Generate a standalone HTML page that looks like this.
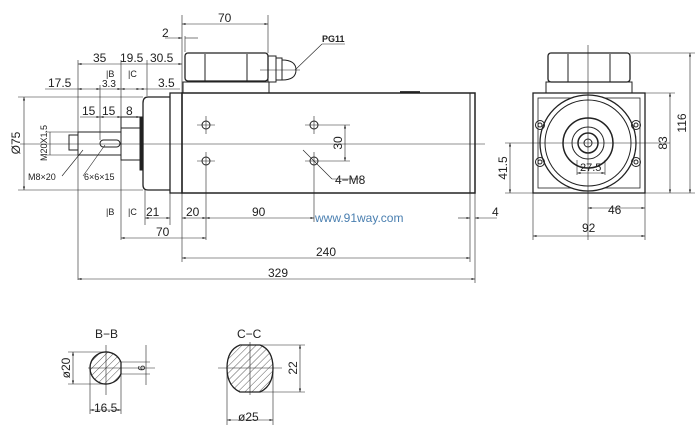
<!DOCTYPE html>
<html><head><meta charset="utf-8"><style>
html,body{margin:0;padding:0;background:#fff;width:697px;height:437px;overflow:hidden}
svg{display:block}
text{font-family:"Liberation Sans",sans-serif;fill:#222}
</style></head><body>
<svg width="697" height="437" viewBox="0 0 697 437" xmlns="http://www.w3.org/2000/svg">
<defs>
<marker id="a" viewBox="0 0 10 10" refX="10" refY="5" markerWidth="6" markerHeight="6" orient="auto-start-reverse"><path d="M0,2L10,5L0,8z" fill="#222"/></marker>
<pattern id="h" width="5" height="5" patternUnits="userSpaceOnUse" patternTransform="rotate(45)"><line x1="0" y1="0" x2="0" y2="5" stroke="#333" stroke-width="0.8"/></pattern>
</defs>
<g fill="none" stroke="#222" stroke-width="1">
<rect x="182" y="93" width="293" height="100" stroke-width="1.5"/>
<line x1="470" y1="93" x2="470" y2="193"/>
<rect x="170" y="93" width="12" height="100" stroke-width="1.3"/>
<path d="M170,97 H148 Q143,97 143,103 V185 Q143,190 148,190 H170" stroke-width="1.3"/>
<rect x="140" y="117" width="3" height="53" fill="#222"/>
<rect x="121" y="117" width="19" height="43"/>
<line x1="121" y1="128" x2="140" y2="128"/>
<rect x="78" y="132" width="43" height="23"/>
<rect x="69" y="135" width="9" height="15"/>
<rect x="100" y="140" width="20" height="7" rx="3.5"/>
<rect x="185" y="53" width="83" height="28" rx="3" stroke-width="1.3"/>
<line x1="205" y1="54" x2="205" y2="81"/><line x1="247" y1="54" x2="247" y2="81"/>
<rect x="183" y="82" width="86" height="11"/>
<rect x="268" y="56" width="8" height="26"/><rect x="276" y="58" width="6" height="22"/>
<path d="M282,60 Q296,60 296,70 Q296,80 282,80"/>
<line x1="260" y1="70" x2="300" y2="70" stroke-width="0.6"/>
<line x1="400" y1="92" x2="420" y2="92" stroke-width="1.8"/>
<circle cx="206" cy="125" r="4"/><circle cx="206" cy="161" r="4"/>
<circle cx="314" cy="125" r="4"/><circle cx="314" cy="161" r="4"/>
<g stroke-width="0.6">
<line x1="197" y1="125" x2="215" y2="125"/><line x1="206" y1="116" x2="206" y2="134"/>
<line x1="197" y1="161" x2="215" y2="161"/><line x1="206" y1="152" x2="206" y2="240"/>
<line x1="305" y1="125" x2="350" y2="125"/><line x1="314" y1="116" x2="314" y2="134"/>
<line x1="305" y1="161" x2="350" y2="161"/><line x1="314" y1="152" x2="314" y2="222"/>
<line x1="20" y1="144" x2="485" y2="144"/>
<line x1="303" y1="150" x2="332" y2="179"/><line x1="332" y1="179" x2="362" y2="179"/>
<line x1="295" y1="70" x2="322" y2="44"/><line x1="322" y1="44" x2="345" y2="44"/>
<line x1="83" y1="150" x2="62" y2="176"/><line x1="105" y1="145" x2="83" y2="176"/>
<line x1="345" y1="125" x2="345" y2="161" marker-start="url(#a)" marker-end="url(#a)"/>
<line x1="182" y1="15" x2="182" y2="93"/><line x1="268" y1="15" x2="268" y2="53"/>
<line x1="182" y1="24" x2="268" y2="24" marker-start="url(#a)" marker-end="url(#a)"/>
<line x1="165" y1="38" x2="182" y2="38" marker-end="url(#a)"/><line x1="185" y1="38" x2="198" y2="38"/>
<line x1="185" y1="36" x2="185" y2="52"/>
<line x1="78" y1="60" x2="78" y2="280"/><line x1="121" y1="60" x2="121" y2="240"/>
<line x1="147" y1="60" x2="147" y2="96"/>
<line x1="78" y1="64" x2="182" y2="64" marker-start="url(#a)" marker-end="url(#a)"/>
<line x1="45" y1="89" x2="78" y2="89"/><line x1="78" y1="89" x2="100" y2="89" marker-start="url(#a)" marker-end="url(#a)"/>
<line x1="100" y1="85" x2="100" y2="140"/>
<line x1="100" y1="89" x2="121" y2="89" marker-end="url(#a)"/>
<line x1="121" y1="89" x2="140" y2="89" marker-start="url(#a)" marker-end="url(#a)"/>
<line x1="140" y1="89" x2="180" y2="89" marker-start="url(#a)"/>
<line x1="80" y1="117" x2="100" y2="117" marker-end="url(#a)"/>
<line x1="100" y1="117" x2="121" y2="117" marker-start="url(#a)" marker-end="url(#a)"/>
<line x1="121" y1="117" x2="140" y2="117" marker-end="url(#a)"/>
<line x1="18" y1="97" x2="143" y2="97"/><line x1="18" y1="190" x2="143" y2="190"/>
<line x1="24" y1="97" x2="24" y2="190" marker-start="url(#a)" marker-end="url(#a)"/>
<line x1="45" y1="132" x2="78" y2="132"/><line x1="45" y1="155" x2="78" y2="155"/>
<line x1="50" y1="132" x2="50" y2="155"/>
<line x1="145" y1="190" x2="145" y2="225"/><line x1="170" y1="193" x2="170" y2="225"/>
<line x1="182" y1="193" x2="182" y2="262"/><line x1="475" y1="193" x2="475" y2="283"/><line x1="470" y1="193" x2="470" y2="262"/>
<line x1="145" y1="218" x2="170" y2="218" marker-start="url(#a)" marker-end="url(#a)"/>
<line x1="182" y1="218" x2="206" y2="218" marker-start="url(#a)" marker-end="url(#a)"/>
<line x1="206" y1="218" x2="314" y2="218" marker-start="url(#a)" marker-end="url(#a)"/>
<line x1="458" y1="218" x2="470" y2="218" marker-end="url(#a)"/><line x1="475" y1="218" x2="497" y2="218" marker-start="url(#a)"/>
<line x1="121" y1="238" x2="206" y2="238" marker-start="url(#a)" marker-end="url(#a)"/>
<line x1="182" y1="258" x2="470" y2="258" marker-start="url(#a)" marker-end="url(#a)"/>
<line x1="78" y1="279" x2="475" y2="279" marker-start="url(#a)" marker-end="url(#a)"/>
</g>
<rect x="533" y="93" width="112" height="100" stroke-width="1.3"/>
<rect x="538" y="98" width="102" height="90" stroke-width="0.8"/>
<rect x="548" y="53" width="82" height="29" rx="3" stroke-width="1.3"/>
<line x1="568" y1="54" x2="568" y2="82"/><line x1="610" y1="54" x2="610" y2="82"/>
<rect x="546" y="82" width="86" height="11"/>
<circle cx="588" cy="143" r="48" fill="#fff" stroke-width="1.3"/>
<circle cx="588" cy="143" r="43"/>
<circle cx="588" cy="143" r="25" stroke-width="1.5"/>
<circle cx="588" cy="143" r="16"/><circle cx="588" cy="143" r="10" stroke-width="1.5"/><circle cx="588" cy="143" r="4"/>
<g><circle cx="540" cy="125" r="4.5"/><circle cx="540" cy="125" r="2"/><circle cx="636" cy="125" r="4.5"/><circle cx="636" cy="125" r="2"/>
<circle cx="540" cy="162" r="4.5"/><circle cx="540" cy="162" r="2"/><circle cx="636" cy="162" r="4.5"/><circle cx="636" cy="162" r="2"/></g>
<g stroke-width="0.6">
<line x1="588" y1="45" x2="588" y2="240"/><line x1="505" y1="143" x2="670" y2="143"/>
<line x1="630" y1="53" x2="695" y2="53"/><line x1="645" y1="93" x2="675" y2="93"/><line x1="645" y1="193" x2="695" y2="193"/>
<line x1="690" y1="53" x2="690" y2="193" marker-start="url(#a)" marker-end="url(#a)"/>
<line x1="670" y1="93" x2="670" y2="193" marker-start="url(#a)" marker-end="url(#a)"/>
<line x1="505" y1="193" x2="533" y2="193"/>
<line x1="510" y1="143" x2="510" y2="193" marker-start="url(#a)" marker-end="url(#a)"/>
<line x1="533" y1="193" x2="533" y2="240"/><line x1="645" y1="193" x2="645" y2="240"/>
<line x1="588" y1="208" x2="645" y2="208" marker-start="url(#a)" marker-end="url(#a)"/>
<line x1="533" y1="236" x2="645" y2="236" marker-start="url(#a)" marker-end="url(#a)"/>
<line x1="577" y1="160" x2="577" y2="175"/><line x1="605" y1="160" x2="605" y2="175"/>
<line x1="577" y1="173" x2="605" y2="173" marker-start="url(#a)" marker-end="url(#a)"/>
</g>
<path d="M121,362.4 A16,16 0 1 0 121,373.6 Z" fill="url(#h)" stroke-width="1.3"/>
<path d="M240,345 H260 Q273,350 273,368 Q273,386 260,392 H240 Q227,386 227,368 Q227,350 240,345Z" fill="url(#h)" stroke-width="1.3"/>
<g stroke-width="0.6">
<line x1="88" y1="368" x2="155" y2="368"/><line x1="106" y1="345" x2="106" y2="395"/>
<line x1="121" y1="362" x2="150" y2="362"/><line x1="121" y1="374" x2="150" y2="374"/>
<line x1="146" y1="345" x2="146" y2="385"/>
<line x1="68" y1="352" x2="106" y2="352"/><line x1="68" y1="384" x2="106" y2="384"/>
<line x1="73" y1="352" x2="73" y2="384" marker-start="url(#a)" marker-end="url(#a)"/>
<line x1="90" y1="370" x2="90" y2="414"/><line x1="121" y1="374" x2="121" y2="414"/>
<line x1="90" y1="410" x2="121" y2="410" marker-start="url(#a)" marker-end="url(#a)"/>
<line x1="218" y1="368" x2="282" y2="368"/><line x1="250" y1="342" x2="250" y2="395"/>
<line x1="260" y1="345" x2="305" y2="345"/><line x1="260" y1="392" x2="305" y2="392"/>
<line x1="300" y1="345" x2="300" y2="392" marker-start="url(#a)" marker-end="url(#a)"/>
<line x1="227" y1="370" x2="227" y2="425"/><line x1="273" y1="370" x2="273" y2="425"/>
<line x1="227" y1="420" x2="273" y2="420" marker-start="url(#a)" marker-end="url(#a)"/>
</g>
</g>
<g font-size="12">
<text x="218" y="22">70</text><text x="162" y="37">2</text>
<text x="93" y="62">35</text><text x="120" y="62">19.5</text><text x="150" y="62">30.5</text>
<text x="48" y="87">17.5</text><text x="102" y="87" font-size="10">3.3</text><text x="158" y="87">3.5</text>
<text x="82" y="115">15</text><text x="102" y="115">15</text><text x="126" y="115">8</text>
<text x="146" y="216">21</text><text x="186" y="216">20</text><text x="252" y="216">90</text><text x="492" y="216">4</text>
<text x="156" y="236">70</text><text x="316" y="256">240</text><text x="268" y="277">329</text>
<text x="335" y="184">4−M8</text>
<text x="608" y="214">46</text><text x="582" y="232">92</text><text x="580" y="171" font-size="11">27.5</text>
<text x="95" y="338">B−B</text><text x="237" y="338">C−C</text>
<text x="94" y="412">16.5</text><text x="238" y="421">ø25</text>
</g>
<g font-size="12">
<text transform="translate(20,143) rotate(-90)" text-anchor="middle">Ø75</text>
<text transform="translate(47,143) rotate(-90)" text-anchor="middle" font-size="9">M20X1.5</text>
<text transform="translate(342,143) rotate(-90)" text-anchor="middle">30</text>
<text transform="translate(686,123) rotate(-90)" text-anchor="middle">116</text>
<text transform="translate(667,143) rotate(-90)" text-anchor="middle">83</text>
<text transform="translate(507,168) rotate(-90)" text-anchor="middle">41.5</text>
<text transform="translate(70,368) rotate(-90)" text-anchor="middle">ø20</text>
<text transform="translate(145,368) rotate(-90)" text-anchor="middle" font-size="10">6</text>
<text transform="translate(297,368) rotate(-90)" text-anchor="middle">22</text>
</g>
<g font-size="9">
<text x="322" y="42" font-weight="bold">PG11</text>
<text x="28" y="180">M8×20</text><text x="84" y="180">6×6×15</text>
<text x="106" y="77">|B</text><text x="128" y="77">|C</text>
<text x="106" y="215">|B</text><text x="128" y="215">|C</text>
</g>
<text x="315" y="222" font-family="Liberation Mono,monospace" font-size="12" style="fill:#4a7fb0">www.91way.com</text>
</svg>
</body></html>
